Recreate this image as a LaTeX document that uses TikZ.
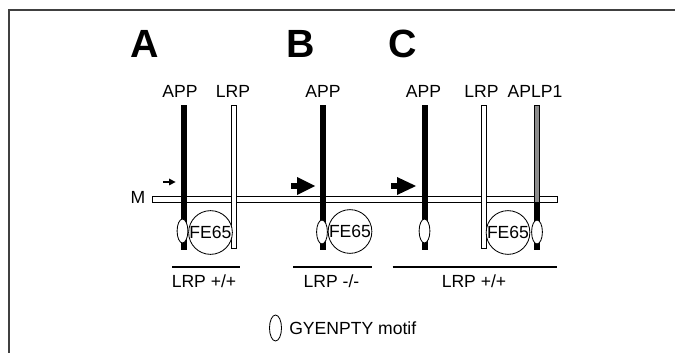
\documentclass[tikz,border=0pt]{standalone}
\usepackage{fontspec}
\setmainfont{Liberation Sans}
\usetikzlibrary{shapes,arrows}
\tikzstyle{lbl} = [font=\fontsize{12.5}{14}\selectfont, inner sep=0pt]
\tikzstyle{panel} = [font=\fontsize{28}{30}\selectfont\bfseries, inner sep=0pt]
\tikzstyle{motif} = [ellipse, draw=black, fill=white, line width=0.6pt, minimum width=0.27cm, minimum height=0.6cm, inner sep=0pt]
\tikzstyle{fe} = [circle, draw=black, fill=white, line width=0.6pt, minimum size=1.05cm, inner sep=0pt, font=\fontsize{12.5}{14}\selectfont]
\tikzstyle{dark} = [draw=black, fill=black, line width=0.4pt]
\tikzstyle{pale} = [draw=black, fill=white, line width=0.6pt]
\tikzstyle{grey} = [draw=black, fill=black!45, line width=0.6pt]

\begin{document}
\begin{tikzpicture}[x=0.025cm, y=-0.025cm]
		\useasboundingbox (0,0) rectangle (675,353);
		\draw[black!75, line width=1.2pt] (9,360) -- (9,10) -- (680,10);
		
		\node[panel](A) at (144.5,44){A};
		\node[panel](B) at (301,44){B};
		\node[panel](C) at (403,44){C};
		
		\node[lbl](appA) at (180,91){APP};
		\node[lbl](lrpA) at (233,91){LRP};
		\node[lbl](appB) at (323,91){APP};
		\node[lbl](appC) at (423.5,91){APP};
		\node[lbl](lrpC) at (481.5,91){LRP};
		\node[lbl](aplp) at (535,91){APLP1};
		
		% membrane
		\filldraw[pale] (152,196) rectangle (557,202.5);
		\node[lbl](M) at (138,197){M};
		
		% receptors
		\filldraw[dark] (181,105) rectangle (186,249);
		\filldraw[pale] (231.5,105) rectangle (236.5,248);
		\filldraw[dark] (320.5,105) rectangle (325.5,249);
		\filldraw[dark] (422,105) rectangle (427,249);
		\filldraw[pale] (481,105) rectangle (486,248);
		\filldraw[grey] (534.5,105) rectangle (539.5,202.5);
		\filldraw[dark] (534.5,202.5) rectangle (539.5,249);
		
		% GYENPTY motifs and FE65
		\node[motif](mA) at (182.5,231){};
		\node[fe](feA) at (210.5,232.5){FE65};
		\node[motif](mB) at (322,232){};
		\node[fe](feB) at (350,231.5){FE65};
		\node[motif](mC) at (424.5,231){};
		\node[fe](feC) at (508,232.5){FE65};
		\node[motif](mD) at (537,232){};
		
		% arrows
		\fill (163,181) rectangle (170,183);
		\fill (169,178.5) -- (175.5,182) -- (169,185.5) -- cycle;
		\fill (291,183) rectangle (298,189);
		\fill (297,177) -- (315,186) -- (297,195) -- cycle;
		\fill (391,183) rectangle (398,189);
		\fill (397,177) -- (416,186) -- (397,195) -- cycle;
		
		% genotypes
		\draw[line width=1.4pt] (172,267) -- (240,267);
		\draw[line width=1.4pt] (293,267) -- (371.5,267);
		\draw[line width=1.4pt] (392.5,267) -- (556.5,267);
		\node[lbl](gA) at (204,281){LRP +/+};
		\node[lbl](gB) at (331.5,281){LRP -/-};
		\node[lbl](gC) at (474,281){LRP +/+};
		
		% legend
		\node[motif, minimum width=0.3cm, minimum height=0.65cm](key) at (275.5,328){};
		\node[lbl, anchor=west](keytxt) at (289,328){GYENPTY motif};
		\end{tikzpicture}
\end{document}
